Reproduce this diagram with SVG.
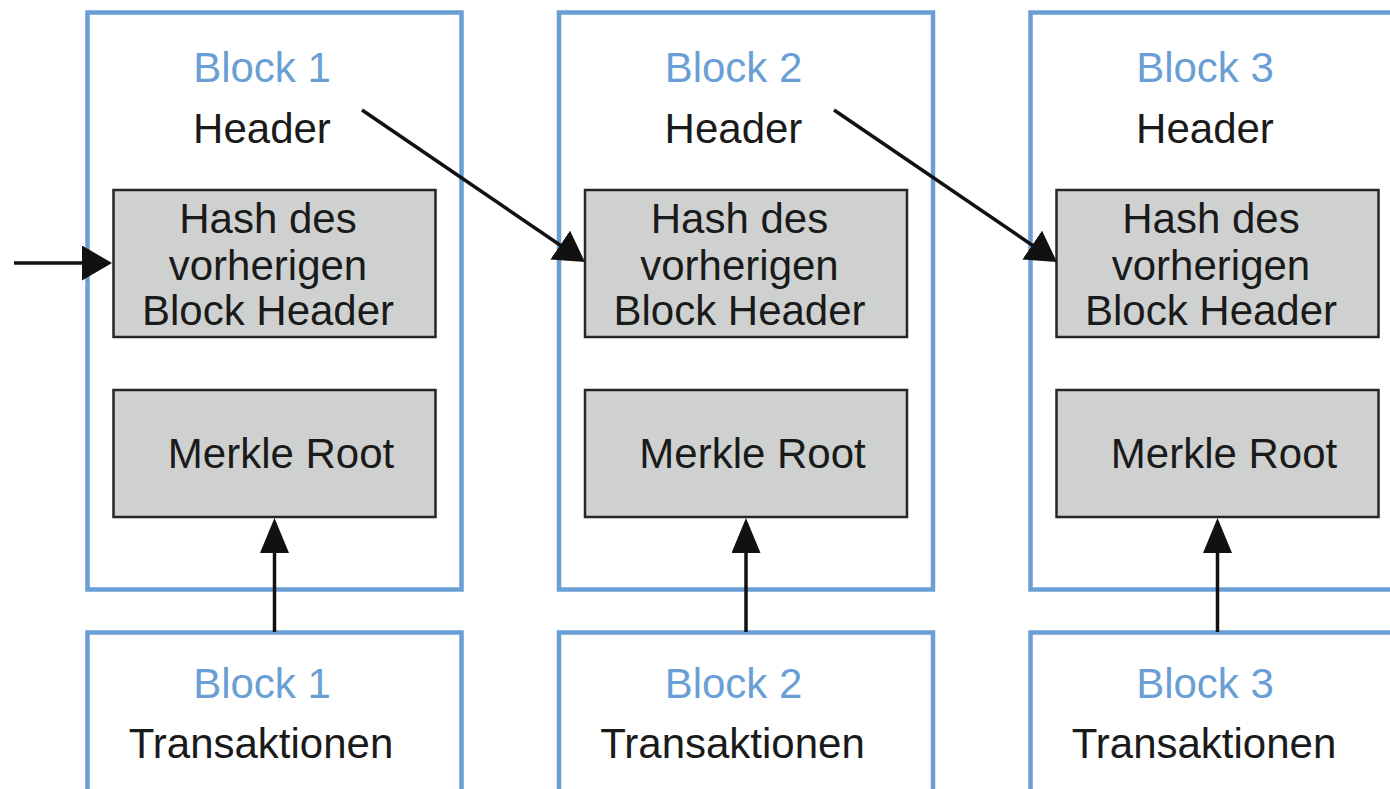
<svg xmlns="http://www.w3.org/2000/svg" width="1390" height="789" viewBox="0 0 1390 789">
<defs>
<style>
.outer{fill:#fff;stroke:#6a9fd6;stroke-width:4.5}
.inner{fill:#cfd1d1;stroke:#262626;stroke-width:2.5}
.t{font-family:"Liberation Sans",Arial,Helvetica,sans-serif;font-size:42px;text-anchor:middle;fill:#1a1a1a}
.b{fill:#6a9fd6}
.con{fill:none;stroke:#111;stroke-width:3.5}
</style>
<marker id="arrH" markerUnits="userSpaceOnUse" markerWidth="30" markerHeight="35" refX="20" refY="17.5" orient="auto" viewBox="0 0 30 35">
<path d="M0,0 L30,17.5 L0,35 Z" fill="#111"/>
</marker>
<marker id="arrV" markerUnits="userSpaceOnUse" markerWidth="35" markerHeight="29" refX="25" refY="14.5" orient="auto" viewBox="0 0 35 29">
<path d="M0,0 L35,14.5 L0,29 Z" fill="#111"/>
</marker>
</defs>
<rect width="1390" height="789" fill="#fff"/>

<g id="block1">
<rect class="outer" x="87.5" y="12.5" width="374" height="577"/>
<text class="t b" x="262" y="82">Block 1</text>
<text class="t" x="262" y="143">Header</text>
<rect class="inner" x="113.5" y="190" width="322" height="147"/>
<text class="t" x="268" y="233">Hash des</text>
<text class="t" x="268" y="280">vorherigen</text>
<text class="t" x="268" y="325">Block Header</text>
<rect class="inner" x="113.5" y="390" width="322" height="127"/>
<text class="t" x="281" y="468">Merkle Root</text>
</g>
<g id="tx1">
<rect class="outer" x="87.5" y="632.5" width="374" height="180"/>
<text class="t b" x="262" y="698">Block 1</text>
<text class="t" x="261" y="758">Transaktionen</text>
</g>

<g id="block2" transform="translate(471.5,0)">
<rect class="outer" x="87.5" y="12.5" width="374" height="577"/>
<text class="t b" x="262" y="82">Block 2</text>
<text class="t" x="262" y="143">Header</text>
<rect class="inner" x="113.5" y="190" width="322" height="147"/>
<text class="t" x="268" y="233">Hash des</text>
<text class="t" x="268" y="280">vorherigen</text>
<text class="t" x="268" y="325">Block Header</text>
<rect class="inner" x="113.5" y="390" width="322" height="127"/>
<text class="t" x="281" y="468">Merkle Root</text>
</g>
<g id="tx2" transform="translate(471.5,0)">
<rect class="outer" x="87.5" y="632.5" width="374" height="180"/>
<text class="t b" x="262" y="698">Block 2</text>
<text class="t" x="261" y="758">Transaktionen</text>
</g>

<g id="block3" transform="translate(943,0)">
<rect class="outer" x="87.5" y="12.5" width="374" height="577"/>
<text class="t b" x="262" y="82">Block 3</text>
<text class="t" x="262" y="143">Header</text>
<rect class="inner" x="113.5" y="190" width="322" height="147"/>
<text class="t" x="268" y="233">Hash des</text>
<text class="t" x="268" y="280">vorherigen</text>
<text class="t" x="268" y="325">Block Header</text>
<rect class="inner" x="113.5" y="390" width="322" height="127"/>
<text class="t" x="281" y="468">Merkle Root</text>
</g>
<g id="tx3" transform="translate(943,0)">
<rect class="outer" x="87.5" y="632.5" width="374" height="180"/>
<text class="t b" x="262" y="698">Block 3</text>
<text class="t" x="261" y="758">Transaktionen</text>
</g>

<g id="connectors">
<line class="con" x1="14" y1="263" x2="102" y2="263" marker-end="url(#arrH)"/>
<line class="con" x1="362" y1="110" x2="576.7" y2="256.4" marker-end="url(#arrH)"/>
<line class="con" x1="834" y1="110" x2="1048.7" y2="256.4" marker-end="url(#arrH)"/>
<line class="con" x1="274.5" y1="632" x2="274.5" y2="528" marker-end="url(#arrV)"/>
<line class="con" x1="746" y1="632" x2="746" y2="528" marker-end="url(#arrV)"/>
<line class="con" x1="1217.5" y1="632" x2="1217.5" y2="528" marker-end="url(#arrV)"/>
</g>
</svg>
